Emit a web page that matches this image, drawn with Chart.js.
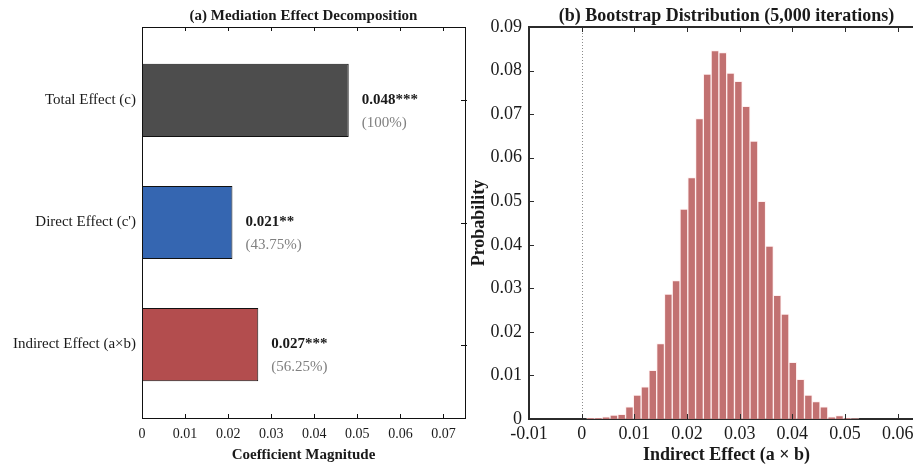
<!DOCTYPE html>
<html>
<head>
<meta charset="utf-8">
<script src="https://cdn.jsdelivr.net/npm/chart.js@4.4.1/dist/chart.umd.min.js"></script>
<style>
  body { margin: 0; width: 913px; height: 464px; overflow: hidden; background: #fff; position: relative; }
  #left { position: absolute; left: 0; top: 0; }
  #right { position: absolute; left: 470px; top: 0; }
</style>
</head>
<body>
<canvas id="left" width="470" height="464"></canvas>
<canvas id="right" width="454" height="464"></canvas>
<script>
// (a) mediation decomposition
const effectLabels = ["Total Effect (c)", "Direct Effect (c')", "Indirect Effect (a×b)"];
const effectValues = [0.048, 0.021, 0.027];
const effectStars = ["***", "**", "***"];
const effectShares = ["(100%)", "(43.75%)", "(56.25%)"];
const effectColors = ["#4d4d4d", "#3566b1", "#b34d4e"];
const effectTicks = [0, 0.01, 0.02, 0.03, 0.04, 0.05, 0.06, 0.07];

// (b) bootstrap histogram
const binStart = 0.00095;
const binWidth = 0.001477;
const binProbs = [0.0002, 0.0002, 0.0005, 0.0009, 0.0011, 0.0028, 0.0055, 0.0074, 0.0112, 0.0173,
  0.0287, 0.0318, 0.0482, 0.0554, 0.0690, 0.0792, 0.0846, 0.0841, 0.0794, 0.0775,
  0.0718, 0.0638, 0.0500, 0.0397, 0.0284, 0.0241, 0.0130, 0.0091, 0.0055, 0.0040,
  0.0028, 0.0005, 0.0008, 0.0002, 0.0001];
const bootXTicks = [-0.01, 0, 0.01, 0.02, 0.03, 0.04, 0.05, 0.06];
const bootYTicks = [0, 0.01, 0.02, 0.03, 0.04, 0.05, 0.06, 0.07, 0.08, 0.09];

const serif = '"Liberation Serif", "Times New Roman", serif';
const ink = "#1a1a1a";
Chart.defaults.font.family = serif;
Chart.defaults.color = ink;

function setTicks(list) {
  return (axis) => { axis.ticks = list.map((v) => ({ value: v })); };
}

// box round the plot area (under the marks) with inward tick marks (over them)
function frame(sides, tickLen, lw, color) {
  return {
    id: "frame",
    beforeDatasetsDraw(chart) {
      const { ctx, chartArea: a } = chart;
      const off = lw % 2 ? 0.5 : 0;
      ctx.save();
      ctx.strokeStyle = color;
      ctx.lineWidth = lw;
      ctx.strokeRect(Math.round(a.left) + off, Math.round(a.top) + off,
        Math.round(a.right - a.left), Math.round(a.bottom - a.top));
      ctx.restore();
    },
    afterDatasetsDraw(chart) {
      const { ctx, chartArea: a, scales } = chart;
      ctx.save();
      ctx.strokeStyle = color;
      ctx.lineWidth = 1;
      ctx.beginPath();
      if (sides.top) {
        scales.x.ticks.forEach((t) => {
          const x = Math.round(scales.x.getPixelForValue(t.value)) + 0.5;
          ctx.moveTo(x, a.top); ctx.lineTo(x, a.top + tickLen);
        });
      }
      if (sides.bottom) {
        scales.x.ticks.forEach((t) => {
          const x = Math.round(scales.x.getPixelForValue(t.value)) + 0.5;
          ctx.moveTo(x, a.bottom); ctx.lineTo(x, a.bottom - tickLen);
        });
      }
      if (sides.left) {
        scales.y.ticks.forEach((t) => {
          const y = Math.round(scales.y.getPixelForValue(t.value)) + 0.5;
          ctx.moveTo(a.left, y); ctx.lineTo(a.left + tickLen, y);
        });
      }
      if (sides.right) {
        scales.y.ticks.forEach((t) => {
          const y = Math.round(scales.y.getPixelForValue(t.value)) + 0.5;
          ctx.moveTo(a.right + 2, y); ctx.lineTo(a.right - tickLen, y);
        });
      }
      ctx.stroke();
      ctx.restore();
    },
  };
}

function panelTitle(text, size) {
  return {
    id: "panelTitle",
    afterDraw(chart) {
      const { ctx, chartArea: a } = chart;
      ctx.save();
      ctx.font = "bold " + size + "px " + serif;
      ctx.fillStyle = ink;
      ctx.textAlign = "center";
      ctx.textBaseline = "middle";
      ctx.fillText(text, (a.left + a.right) / 2, 16);
      ctx.restore();
    },
  };
}

const valueLabels = {
  id: "valueLabels",
  afterDatasetsDraw(chart) {
    const { ctx } = chart;
    const bars = chart.getDatasetMeta(0).data;
    ctx.save();
    ctx.textAlign = "left";
    ctx.textBaseline = "middle";
    bars.forEach((bar, i) => {
      const x = bar.x + 13;
      ctx.font = "bold 15px " + serif;
      ctx.fillStyle = ink;
      ctx.fillText(effectValues[i].toFixed(3) + effectStars[i], x, bar.y);
      ctx.font = "15px " + serif;
      ctx.fillStyle = "#808080";
      ctx.fillText(effectShares[i], x, bar.y + 23);
    });
    ctx.restore();
  },
};

const zeroLine = {
  id: "zeroLine",
  beforeDatasetsDraw(chart) {
    const { ctx, chartArea: a, scales } = chart;
    const x = Math.round(scales.x.getPixelForValue(0)) + 0.5;
    ctx.save();
    ctx.strokeStyle = "#8c8c8c";
    ctx.lineWidth = 1;
    ctx.setLineDash([1, 2]);
    ctx.beginPath();
    ctx.moveTo(x, a.top);
    ctx.lineTo(x, a.bottom - 1);
    ctx.stroke();
    ctx.restore();
  },
};

new Chart(document.getElementById("left"), {
  type: "bar",
  data: {
    datasets: [{
      data: effectValues.map((v, i) => ({ x: v, y: i + 1 })),
      backgroundColor: effectColors,
      borderColor: "#111",
      borderWidth: 1,
      borderSkipped: false,
      categoryPercentage: 1,
      barPercentage: 0.6,
    }],
  },
  options: {
    responsive: false,
    animation: false,
    indexAxis: "y",
    layout: { padding: { top: 27, right: 5, left: 0, bottom: 0 } },
    plugins: { legend: { display: false }, tooltip: { enabled: false } },
    scales: {
      x: {
        type: "linear",
        offset: false,
        min: 0,
        max: 0.075,
        afterBuildTicks: setTicks(effectTicks),
        afterFit: (s) => { s.height = 46; },
        grid: { display: false, drawTicks: false },
        border: { display: false },
        ticks: { font: { size: 14, lineHeight: 1 }, padding: 9, maxRotation: 0, callback: (v) => String(v) },
        title: { display: true, text: "Coefficient Magnitude", font: { size: 15, weight: "bold", lineHeight: 1 }, padding: { bottom: 1, top: 0 } },
      },
      y: {
        type: "linear",
        offset: false,
        reverse: true,
        min: 0.398,
        max: 3.602,
        afterBuildTicks: setTicks([1, 2, 3]),
        afterFit: (s) => { s.width = 142; },
        grid: { display: false, drawTicks: false, offset: false },
        border: { display: false },
        ticks: { font: { size: 15, lineHeight: 1 }, padding: 6, callback: (v) => effectLabels[v - 1] },
      },
    },
  },
  plugins: [frame({ top: true, bottom: true, right: true }, 4, 1, "#111"), valueLabels, panelTitle("(a) Mediation Effect Decomposition", 15)],
});

new Chart(document.getElementById("right"), {
  type: "bar",
  data: {
    datasets: [{
      data: binProbs.map((p, i) => ({ x: binStart + binWidth * (i + 0.5), y: p })),
      backgroundColor: "#c27171",
      borderColor: "rgba(255,235,235,0.75)",
      borderWidth: 1,
      categoryPercentage: 1,
      barPercentage: 1,
    }],
  },
  options: {
    responsive: false,
    animation: false,
    layout: { padding: { top: 27, right: 0, left: 0, bottom: 0 } },
    plugins: { legend: { display: false }, tooltip: { enabled: false } },
    scales: {
      x: {
        type: "linear",
        offset: false,
        min: -0.01,
        max: 0.065,
        afterBuildTicks: setTicks(bootXTicks),
        afterFit: (s) => { s.height = 45; },
        grid: { display: false, drawTicks: false, offset: false },
        border: { display: false },
        ticks: { font: { size: 18, lineHeight: 1 }, padding: 6, maxRotation: 0, callback: (v) => String(v) },
        title: { display: true, text: "Indirect Effect (a × b)", font: { size: 18, weight: "bold", lineHeight: 1 }, padding: { bottom: 0, top: 0 } },
      },
      y: {
        min: 0,
        max: 0.09,
        afterBuildTicks: setTicks(bootYTicks),
        afterFit: (s) => { s.width = 59; },
        grid: { display: false, drawTicks: false },
        border: { display: false },
        ticks: { font: { size: 18, lineHeight: 1 }, padding: 7, callback: (v) => String(v) },
        title: { display: true, text: "Probability", font: { size: 18, weight: "bold", lineHeight: 1 }, padding: { top: 0, bottom: 0 } },
      },
    },
  },
  plugins: [zeroLine, frame({ top: true, bottom: true, left: true, right: true }, 5, 2, "#2b2b2b"), panelTitle("(b) Bootstrap Distribution (5,000 iterations)", 18)],
});
</script>
</body>
</html>
